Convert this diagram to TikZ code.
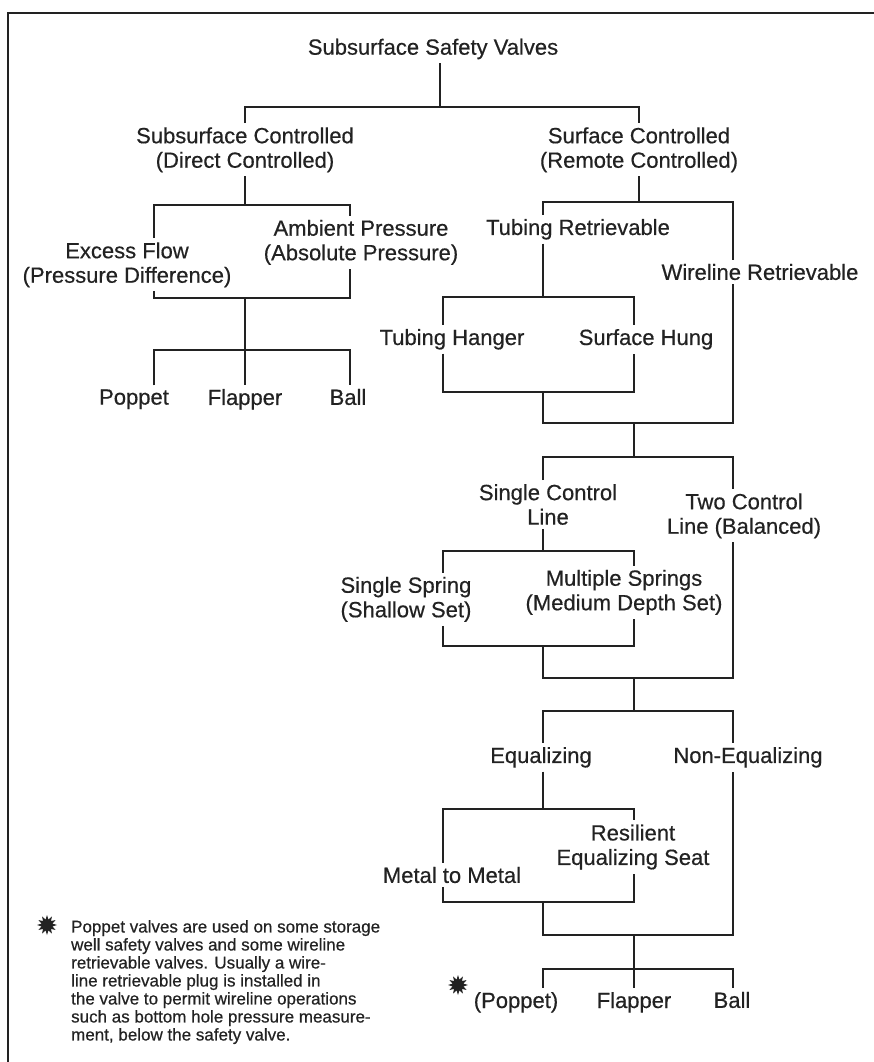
\documentclass[tikz,border=0pt]{standalone}
\usepackage{fontspec}
\setmainfont{Liberation Sans}[FakeBold=0.5]
\usepackage{tikz}
\usetikzlibrary{shapes}
\usepackage{xcolor}
\definecolor{ink}{HTML}{222222}

\begin{document}
\begin{tikzpicture}[x=1pt, y=-1pt, line width=2.3pt, ink,
        lbl/.style={align=center, inner sep=3pt, text=ink, font=\fontsize{22}{24.5}\selectfont},
        note/.style={align=left, inner sep=0pt, text=ink, font=\fontsize{17}{18}\selectfont},
        burst/.style={star, star points=12, star point ratio=1.8, fill=ink, draw=none, inner sep=0pt, minimum size=20pt}]
        \useasboundingbox (0,0) rectangle (874,1062);
        \draw[line width=2.5pt] (8,1062) -- (8,13) -- (874,13);

        \node[lbl] (title) at (433,49) {Subsurface Safety Valves};
        \node[lbl] (subc) at (245,149.8) {Subsurface Controlled\\(Direct Controlled)};
        \node[lbl] (surfc) at (639,149.8) {Surface Controlled\\(Remote Controlled)};
        \node[lbl] (excess) at (127,264.8) {Excess Flow\\(Pressure Difference)};
        \node[lbl] (ambient) at (361,242.3) {Ambient Pressure\\(Absolute Pressure)};
        \node[lbl] (poppet) at (134,399.3) {Poppet};
        \node[lbl] (flapper) at (245,399.3) {Flapper};
        \node[lbl] (ball) at (348,397) {Ball};
        \node[lbl] (tubret) at (578,229.3) {Tubing Retrievable};
        \node[lbl] (wirret) at (760,272) {Wireline Retrievable};
        \node[lbl] (tubhang) at (452,339.3) {Tubing Hanger};
        \node[lbl] (surfhung) at (646,339.3) {Surface Hung};
        \node[lbl] (single) at (548,504.5) {Single Control\\Line};
        \node[lbl] (two) at (744,515.8) {Two Control\\Line (Balanced)};
        \node[lbl] (spring) at (406,599.3) {Single Spring\\(Shallow Set)};
        \node[lbl] (multi) at (624,592.3) {Multiple Springs\\(Medium Depth Set)};
        \node[lbl] (equal) at (541,757.3) {Equalizing};
        \node[lbl] (nonequal) at (748,757.3) {Non-Equalizing};
        \node[lbl] (resil) at (633,847) {Resilient\\Equalizing Seat};
        \node[lbl] (metal) at (452,875) {Metal to Metal};
        \node[lbl] (poppetb) at (516,1002.3) {(Poppet)};
        \node[lbl] (flapperb) at (634,1002.3) {Flapper};
        \node[lbl] (ballb) at (732,1000) {Ball};
        \node[burst] (starb) at (458,985) {};

        \node[burst] (starn) at (47,925) {};
        \node[note, anchor=north west] (footnote) at (70,919) {Poppet valves are used on some storage\\
                well safety valves and some wireline\\
                retrievable valves. Usually a wire-\\
                line retrievable plug is installed in\\
                the valve to permit wireline operations\\
                such as bottom hole pressure measure-\\
                ment, below the safety valve.};

        \coordinate (jA) at (440,107);
        \coordinate (jB) at (245,205);
        \coordinate (jC) at (245,298);
        \coordinate (jD) at (245,350);
        \coordinate (jE) at (639,202);
        \coordinate (jF) at (543,297);
        \coordinate (jG) at (543,392);
        \coordinate (jH) at (634,423);
        \coordinate (jI) at (634,457);
        \coordinate (jJ) at (543,551);
        \coordinate (jK) at (543,646);
        \coordinate (jL) at (634,678);
        \coordinate (jM) at (634,711);
        \coordinate (jN) at (543,809);
        \coordinate (jO) at (543,902);
        \coordinate (jP) at (634,935);
        \coordinate (jQ) at (634,969);

        \draw (title.south -| jA) -- (jA);
        \draw (subc.north) |- (jA) -| (surfc.north);

        \draw (subc.south) -- (jB);
        \draw (excess.north -| 154,0) |- (jB) -| (ambient.north -| 350,0);
        \draw (excess.south -| 154,0) |- (jC) -| (ambient.south -| 350,0);
        \draw (jC) -- (flapper);
        \draw (poppet.north -| 154,0) |- (jD) -| (ball.north -| 350,0);

        \draw (surfc.south) -- (jE);
        \draw (tubret.north -| jF) |- (jE) -| (wirret.north -| 733,0);
        \draw (tubret.south -| jF) -- (jF);
        \draw (tubhang.north -| 443,0) |- (jF) -| (surfhung.north -| jH);
        \draw (tubhang.south -| 443,0) |- (jG) -| (surfhung.south -| jH);
        \draw (jG) |- (jH) -| (wirret.south -| 733,0);
        \draw (jH) -- (jI);
        \draw (single.north -| jJ) |- (jI) -| (two.north -| 733,0);

        \draw (single.south -| jJ) -- (jJ);
        \draw (spring.north -| 443,0) |- (jJ) -| (multi.north -| jL);
        \draw (spring.south -| 443,0) |- (jK) -| (multi.south -| jL);
        \draw (jK) |- (jL) -| (two.south -| 733,0);
        \draw (jL) -- (jM);
        \draw (equal.north -| jN) |- (jM) -| (nonequal.north -| 733,0);

        \draw (equal.south -| jN) -- (jN);
        \draw (metal.north -| 443,0) |- (jN) -| (resil.north -| jP);
        \draw (metal.south -| 443,0) |- (jO) -| (resil.south -| jP);
        \draw (jO) |- (jP) -| (nonequal.south -| 733,0);
        \draw (jP) -- (flapperb.north -| jP);
        \draw (poppetb.north -| jO) |- (jQ) -| (ballb.north -| 733,0);
\end{tikzpicture}
\end{document}
